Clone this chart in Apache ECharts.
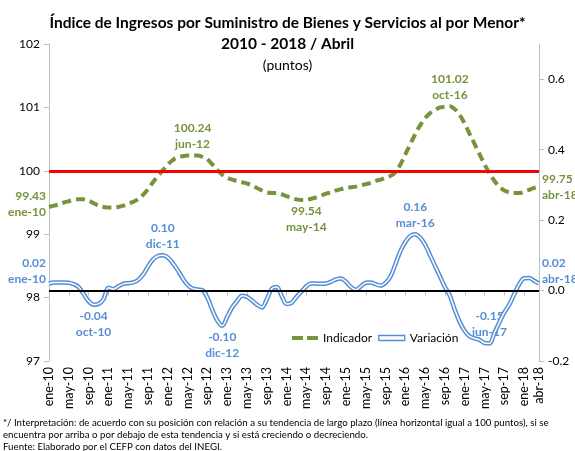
<!DOCTYPE html>
<html>
<head>
<meta charset="utf-8">
<script src="https://cdn.jsdelivr.net/npm/echarts@6/dist/echarts.min.js"></script>
<style>
  html, body { margin: 0; padding: 0; background: #fff; }
  #chart-container { width: 575px; height: 451px; }
</style>
</head>
<body>
<div id="chart-container"></div>
<script>
// month labels ene-10 ... abr-18
var monthNames = ['ene', 'feb', 'mar', 'abr', 'may', 'jun', 'jul', 'ago', 'sep', 'oct', 'nov', 'dic'];
var months = [];
for (var yr = 10; yr <= 18; yr++) {
  for (var m = 0; m < 12; m++) {
    if (yr === 18 && m > 3) break;
    months.push(monthNames[m] + '-' + yr);
  }
}

// Indicador (puntos), eje izquierdo
var indicador = [
  99.43, 99.45, 99.47, 99.50, 99.52, 99.54, 99.55, 99.55, 99.53, 99.49,
  99.45, 99.43, 99.42, 99.42, 99.43, 99.45, 99.48, 99.51, 99.55, 99.62,
  99.71, 99.82, 99.92, 100.01, 100.10, 100.17, 100.21, 100.23, 100.24, 100.24,
  100.24, 100.22, 100.18, 100.10, 100.01, 99.94, 99.89, 99.86, 99.84, 99.82,
  99.80, 99.77, 99.73, 99.69, 99.66, 99.65, 99.65, 99.63, 99.60, 99.57,
  99.55, 99.54, 99.54, 99.56, 99.58, 99.61, 99.64, 99.66, 99.69, 99.71,
  99.73, 99.74, 99.75, 99.77, 99.79, 99.81, 99.84, 99.86, 99.89, 99.92,
  99.98, 100.10, 100.26, 100.42, 100.58, 100.72, 100.83, 100.91, 100.96, 101.00,
  101.01, 101.02, 100.97, 100.88, 100.74, 100.58, 100.42, 100.26, 100.10, 99.96,
  99.84, 99.75, 99.69, 99.66, 99.65, 99.65, 99.67, 99.70, 99.73, 99.75
];

// Variación, eje derecho
var variacion = [
  0.020, 0.023, 0.023, 0.023, 0.022, 0.018, 0.010, -0.010, -0.030, -0.040,
  -0.038, -0.025, 0.008, 0.004, 0.012, 0.019, 0.021, 0.023, 0.030, 0.045,
  0.068, 0.088, 0.098, 0.100, 0.094, 0.078, 0.058, 0.035, 0.016, 0.006,
  0.003, 0.001, -0.020, -0.055, -0.085, -0.100, -0.075, -0.048, -0.030, -0.015,
  -0.018, -0.028, -0.040, -0.048, -0.025, 0.005, 0.010, -0.015, -0.038, -0.035,
  -0.018, -0.003, 0.012, 0.020, 0.020, 0.019, 0.020, 0.025, 0.032, 0.034,
  0.025, 0.010, 0.002, 0.012, 0.022, 0.023, 0.018, 0.014, 0.022, 0.040,
  0.075, 0.112, 0.138, 0.155, 0.160, 0.150, 0.130, 0.100, 0.070, 0.040,
  0.010, -0.015, -0.055, -0.090, -0.115, -0.130, -0.136, -0.140, -0.149, -0.150,
  -0.120, -0.090, -0.062, -0.040, -0.010, 0.018, 0.035, 0.036, 0.028, 0.020
];

// points that carry a label
var greenLabelIdx = [0, 29, 52, 81, 99];
var blueLabelIdx = [0, 9, 23, 35, 74, 89, 99];

var GREEN = '#77933c';
var BLUE = '#558ed5';
var FONT = 'Lato, "Open Sans", sans-serif';

var greenPos = { 0: ['left', [0, -3]], 29: ['top', [0, 0]], 52: ['bottom', [0, 0]], 81: ['top', [0, 0]], 99: ['right', [0, 0]] };
var bluePos = { 0: ['left', [0, -12]], 9: ['bottom', [0, 0]], 23: ['top', [0, 0]], 35: ['bottom', [0, 0]], 74: ['top', [0, 0]], 89: ['top', [0, 0]], 99: ['right', [0, -12]] };

function withLabels(values, idxs, pos, color, digits) {
  return values.map(function (v, i) {
    if (idxs.indexOf(i) < 0) return v;
    return {
      value: v,
      label: {
        show: true,
        position: pos[i][0],
        offset: pos[i][1],
        distance: 3,
        color: color,
        fontWeight: 'bold',
        fontSize: 12,
        fontFamily: FONT,
        lineHeight: 16,
        align: pos[i][0] === 'left' ? 'right' : (pos[i][0] === 'right' ? 'left' : 'center'),
        formatter: v.toFixed(digits) + '\n' + months[i]
      }
    };
  });
}

function tickShown(i) {
  return i % 4 === 0 || i === months.length - 1;
}

var myChart = echarts.init(document.getElementById('chart-container'));
var option = {
  animation: false,
  textStyle: { fontFamily: FONT },
  title: [
    { text: 'Índice de Ingresos por Suministro de Bienes y Servicios al por Menor*', left: 'center', top: 10,
      textStyle: { fontSize: 15.5, fontWeight: 'bold', color: '#000', fontFamily: FONT } },
    { text: '2010 - 2018 / Abril', left: 'center', top: 31,
      textStyle: { fontSize: 15.5, fontWeight: 'bold', color: '#000', fontFamily: FONT } },
    { text: '(puntos)', left: 'center', top: 53,
      textStyle: { fontSize: 14, fontWeight: 'normal', color: '#000', fontFamily: FONT } }
  ],
  legend: {
    left: 292, top: 332, padding: 0,
    itemWidth: 26, itemHeight: 5, itemGap: 6,
    textStyle: { fontSize: 12, color: '#000', fontFamily: FONT },
    data: [
      { name: 'Indicador', icon: 'path://M0,0h11v4h-11z M15,0h11v4h-11z', itemStyle: { color: GREEN } },
      { name: 'Variación', icon: 'rect', itemStyle: { color: '#fff', borderColor: BLUE, borderWidth: 1.3 } }
    ]
  },
  grid: { left: 49, right: 36, top: 44, bottom: 90 },
  xAxis: {
    type: 'category',
    boundaryGap: false,
    data: months,
    axisLine: { lineStyle: { color: '#bfbfbf', width: 1 } },
    axisTick: { interval: tickShown, length: 5, lineStyle: { color: '#bfbfbf' } },
    axisLabel: { interval: tickShown, rotate: 90, fontSize: 12.5, color: '#000', margin: 6, fontFamily: FONT },
    splitLine: { show: false }
  },
  yAxis: [
    {
      type: 'value', min: 97, max: 102, interval: 1, position: 'left',
      axisLine: { show: true, lineStyle: { color: '#bfbfbf' } },
      axisTick: { show: true, length: 5, lineStyle: { color: '#bfbfbf' } },
      axisLabel: { fontSize: 12, color: '#000', margin: 9, fontFamily: FONT },
      splitLine: { show: false }
    },
    {
      type: 'value', min: -0.2, max: 0.7, interval: 0.2, position: 'right',
      axisLine: { show: true, lineStyle: { color: '#bfbfbf' } },
      axisTick: { show: true, length: 5, lineStyle: { color: '#bfbfbf' } },
      axisLabel: {
        fontSize: 12, color: '#000', margin: 9, showMaxLabel: false, fontFamily: FONT,
        formatter: function (v) { return v.toFixed(1); }
      },
      splitLine: { show: false }
    }
  ],
  series: [
    {
      name: 'Indicador',
      type: 'line',
      yAxisIndex: 0,
      smooth: 0.35,
      symbol: 'circle', symbolSize: 0, showAllSymbol: true,
      itemStyle: { color: GREEN },
      lineStyle: { color: GREEN, width: 4, type: [9, 5] },
      z: 4,
      data: withLabels(indicador, greenLabelIdx, greenPos, GREEN, 2),
      markLine: {
        silent: true, symbol: 'none', label: { show: false },
        lineStyle: { color: '#ff0000', width: 3, type: 'solid' },
        data: [{ yAxis: 100 }]
      }
    },
    {
      name: 'Variación',
      type: 'line',
      yAxisIndex: 1,
      smooth: 0.35,
      symbol: 'circle', symbolSize: 0, showAllSymbol: true,
      itemStyle: { color: BLUE },
      lineStyle: { color: BLUE, width: 4.5 },
      z: 2,
      data: withLabels(variacion, blueLabelIdx, bluePos, BLUE, 2),
      markLine: {
        silent: true, symbol: 'none', label: { show: false },
        lineStyle: { color: '#000', width: 2, type: 'solid' },
        data: [{ yAxis: 0 }]
      }
    },
    {
      name: 'Variación interior',
      type: 'line',
      yAxisIndex: 1,
      smooth: 0.35,
      symbol: 'none',
      lineStyle: { color: '#fff', width: 1.5 },
      z: 3,
      silent: true,
      data: variacion
    }
  ],
  graphic: [
    { type: 'text', left: 3, top: 418, style: { text: '*/ Interpretación: de acuerdo con su posición con relación a su tendencia de largo plazo (línea horizontal igual a 100 puntos), si se', fontSize: 9.7, fontFamily: FONT, fill: '#000' } },
    { type: 'text', left: 3, top: 430, style: { text: 'encuentra por arriba o por debajo de esta tendencia y si está creciendo o decreciendo.', fontSize: 9.7, fontFamily: FONT, fill: '#000' } },
    { type: 'text', left: 3, top: 442, style: { text: 'Fuente: Elaborado por el CEFP con datos del INEGI.', fontSize: 9.7, fontFamily: FONT, fill: '#000' } }
  ]
};
myChart.setOption(option);
</script>
</body>
</html>
